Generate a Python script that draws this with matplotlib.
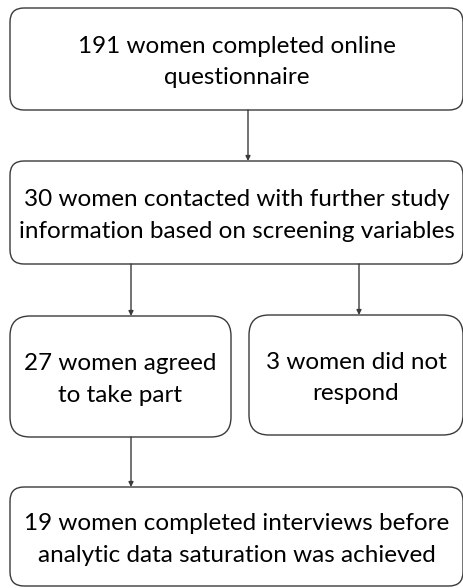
import matplotlib.pyplot as plt
from matplotlib.patches import FancyBboxPatch

plt.rcParams['font.family'] = ['Lato', 'DejaVu Sans']

LABELS = [
    "191 women completed online\nquestionnaire",
    "30 women contacted with further study\ninformation based on screening variables",
    "27 women agreed\nto take part",
    "3 women did not\nrespond",
    "19 women completed interviews before\nanalytic data saturation was achieved",
]
# box extents in pixels: left, top, right, bottom
BOXES = [
    (10, 8, 463, 110),
    (10, 161, 463, 264),
    (10, 316, 231, 437),
    (249, 315, 463, 435),
    (10, 487, 463, 586),
]
RADII = [14, 14, 20, 20, 14]
# arrows: (x, y_start, y_end)
ARROWS = [
    (248, 110, 161),
    (131, 264, 316),
    (359, 264, 315),
    (131, 437, 487),
]

fig = plt.figure(figsize=(4.64, 5.88), dpi=100)
ax = fig.add_axes([0, 0, 1, 1])
ax.set_xlim(0, 464)
ax.set_ylim(588, 0)
ax.axis('off')

edge = "#3a3a3a"
for (l, t, r, b), rad, lab in zip(BOXES, RADII, LABELS):
    box = FancyBboxPatch((l + rad, t + rad), (r - l) - 2 * rad, (b - t) - 2 * rad,
                         boxstyle="round,pad=%d,rounding_size=%d" % (rad, rad),
                         facecolor="white", edgecolor=edge, linewidth=1.0)
    ax.add_patch(box)
    ax.text((l + r) / 2, (t + b) / 2 + 3, lab, ha="center", va="center",
            fontsize=17.5, color="black", linespacing=1.6)

for x, y0, y1 in ARROWS:
    ax.annotate("", xy=(x, y1), xytext=(x, y0),
                arrowprops=dict(arrowstyle="-|>", color=edge, lw=1.0,
                                mutation_scale=7, shrinkA=0, shrinkB=0))

fig.savefig("out.png", dpi=100)
